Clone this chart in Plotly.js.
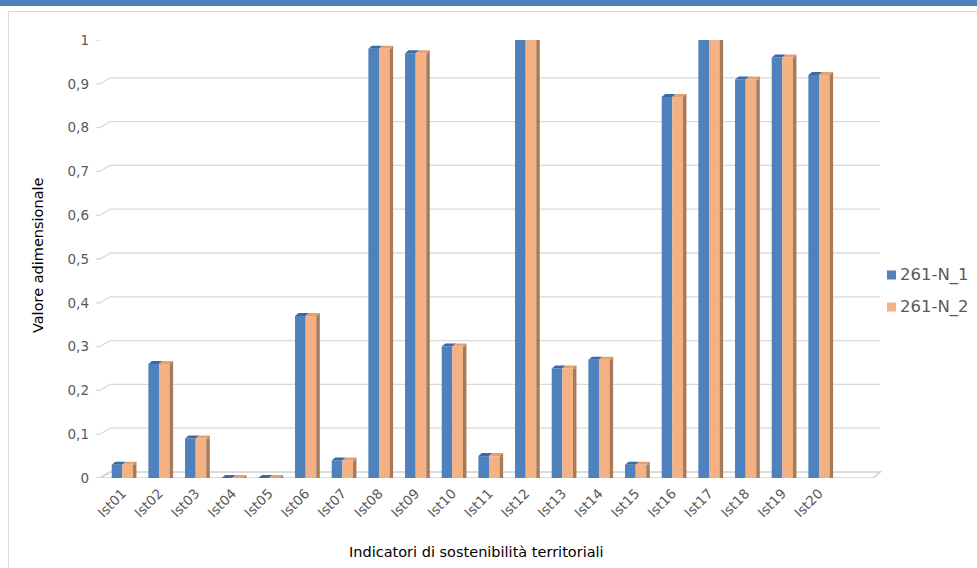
<!DOCTYPE html>
<html>
<head>
<meta charset="utf-8">
<script src="https://cdn.plot.ly/plotly-3.0.1.min.js"></script>
<style>
  html, body { margin: 0; padding: 0; background: #ffffff; }
  #band { position: absolute; left: 0; top: 0; width: 977px; height: 6px; background: #4f81bd; }
  #frame { position: absolute; left: 8px; top: 11px; width: 1000px; height: 600px;
           border-left: 1px solid #d9d9d9; border-top: 1px solid #d9d9d9; }
  #chart { position: absolute; left: 0; top: 0; width: 977px; height: 568px; }
</style>
</head>
<body>
<div id="band"></div>
<div id="frame"></div>
<div id="chart"></div>
<script>
// Indicator codes along the horizontal axis
const categories = ['Ist01','Ist02','Ist03','Ist04','Ist05','Ist06','Ist07','Ist08','Ist09','Ist10',
                    'Ist11','Ist12','Ist13','Ist14','Ist15','Ist16','Ist17','Ist18','Ist19','Ist20'];

// Dimensionless values of the two scenarios
const seriesNames = ['261-N_1', '261-N_2'];
const valuesN1 = [0.03, 0.26, 0.09, 0.00, 0.00, 0.37, 0.04, 0.98, 0.97, 0.30,
                  0.05, 1.00, 0.25, 0.27, 0.03, 0.87, 1.00, 0.91, 0.96, 0.92];
const valuesN2 = [0.03, 0.26, 0.09, 0.00, 0.00, 0.37, 0.04, 0.98, 0.97, 0.30,
                  0.05, 1.00, 0.25, 0.27, 0.03, 0.87, 1.00, 0.91, 0.96, 0.92];

// Value axis ticks (Italian decimal comma)
const yTickVals = [0, 0.1, 0.2, 0.3, 0.4, 0.5, 0.6, 0.7, 0.8, 0.9, 1];
const yTickText = ['0', '0,1', '0,2', '0,3', '0,4', '0,5', '0,6', '0,7', '0,8', '0,9', '1'];

const FONT = 'DejaVu Sans, Verdana, sans-serif';
const BLUE = '#4f81bd', BLUE_TOP = '#3d69a6';
const ORANGE = '#f4b183', ORANGE_TOP = '#e9a071', ORANGE_SIDE = '#a77a58';
const GRID = '#d9d9d9';
const seriesColors = [BLUE, ORANGE];

const pos = categories.map((_, i) => i);
const W = 0.29;        // face width in category units
const SIDE = 0.095;    // depth of the right-hand side face

const traces = [
  { type: 'bar', name: seriesNames[0], x: pos, y: valuesN1, offset: -W, width: W,
    marker: { color: BLUE, line: { width: 0 } } },
  { type: 'bar', name: seriesNames[1], x: pos, y: valuesN2, offset: 0, width: W,
    marker: { color: ORANGE, line: { width: 0 } } },
  // shaded side face of the second series' columns
  { type: 'bar', name: seriesNames[1], x: pos, y: valuesN2, offset: W, width: SIDE,
    marker: { color: ORANGE_SIDE, line: { width: 0 } }, hoverinfo: 'skip' }
];

const shapes = [];
const annotations = [];

// Back-wall gridlines with a small perspective step from the tick
yTickVals.forEach(v => {
  const path = v === 0
    ? 'M -8,0 L 769,0 L 776,6 L 6,6 L -4,0'
    : 'M -8,0 L -4,0 L 6,6 L 776,6';
  shapes.push({
    type: 'path', layer: 'below',
    xref: 'paper', xsizemode: 'pixel', xanchor: 0,
    yref: 'y', ysizemode: 'pixel', yanchor: v,
    path: path,
    line: { color: v === 0 ? '#cfcfcf' : GRID, width: v === 0 ? 1.6 : 1.3 }
  });
});

// Top faces of the columns
function topFace(xi, v, path, color) {
  shapes.push({
    type: 'path', layer: 'above',
    xref: 'x', xsizemode: 'pixel', xanchor: xi,
    yref: 'y', ysizemode: 'pixel', yanchor: v,
    path: path, fillcolor: color, line: { width: 0 }
  });
}
pos.forEach(i => {
  topFace(i, valuesN1[i], 'M -10.6,0 L 0,0 L 3.5,3 L -7.1,3 Z', BLUE_TOP);
  topFace(i, valuesN2[i], 'M 0,0 L 10.6,0 L 14.1,3 L 3.5,3 Z', ORANGE_TOP);
  topFace(i, valuesN2[i], 'M 10.6,0 L 14.1,3 L 14.1,0 Z', ORANGE_SIDE);
});

// Legend to the right of the plot: colour square + series name
const legendY = [0.4635, 0.3904];
seriesNames.forEach((name, k) => {
  shapes.push({
    type: 'rect', xref: 'paper', xsizemode: 'pixel', xanchor: 1, x0: 13, x1: 22,
    yref: 'paper', ysizemode: 'pixel', yanchor: legendY[k], y0: -4.5, y1: 4.5,
    fillcolor: seriesColors[k], line: { width: 0 }
  });
  annotations.push({
    text: name, showarrow: false, xref: 'paper', yref: 'paper',
    x: 1.0317, y: legendY[k], xanchor: 'left', yanchor: 'middle',
    font: { family: FONT, size: 16.5, color: '#595959' }
  });
});

annotations.push(
  { text: 'Valore adimensionale', textangle: -90, showarrow: false,
    xref: 'paper', yref: 'paper', x: -0.0857, y: 0.509, xanchor: 'center', yanchor: 'middle',
    font: { family: FONT, size: 14.5, color: '#000000' } },
  { text: 'Indicatori di sostenibilità territoriali', showarrow: false,
    xref: 'paper', yref: 'paper', x: 0.4844, y: -0.169, xanchor: 'center', yanchor: 'middle',
    font: { family: FONT, size: 14.5, color: '#000000' } }
);

const layout = {
  width: 977, height: 568,
  margin: { l: 104, r: 103, t: 40, b: 90, autoexpand: false },
  paper_bgcolor: 'rgba(0,0,0,0)', plot_bgcolor: 'rgba(0,0,0,0)',
  barmode: 'overlay',
  showlegend: false,
  font: { family: FONT, color: '#595959' },
  xaxis: {
    range: [-0.5, 20.5], tickvals: pos, ticktext: categories, tickangle: -45,
    showgrid: false, zeroline: false, showline: false, ticks: '',
    ticklabelstandoff: 4,
    tickfont: { family: FONT, size: 13.5, color: '#595959' }
  },
  yaxis: {
    range: [0, 1], tickvals: yTickVals, ticktext: yTickText,
    showgrid: false, zeroline: false, showline: false, ticks: '',
    ticklabelstandoff: 14,
    tickfont: { family: FONT, size: 13.5, color: '#595959' }
  },
  shapes: shapes,
  annotations: annotations
};

Plotly.newPlot('chart', traces, layout, { displayModeBar: false, staticPlot: true });
</script>
</body>
</html>
